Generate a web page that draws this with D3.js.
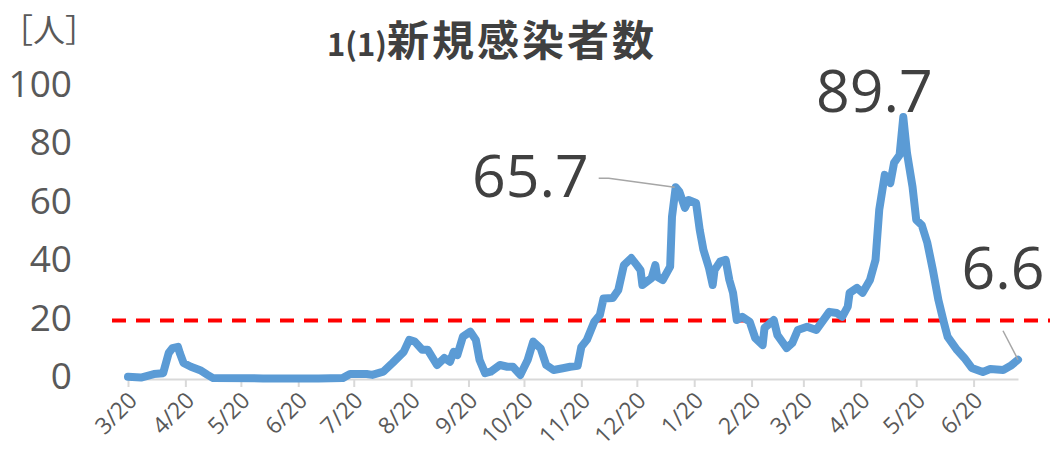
<!DOCTYPE html>
<html>
<head>
<meta charset="utf-8">
<script src="https://cdn.jsdelivr.net/npm/d3@7"></script>
<style>
  html, body { margin: 0; padding: 0; background: #fff; }
  svg { display: block; }
</style>
</head>
<body>
<div id="chart"></div>
<script>
// data (7-day average, persons)
const dates = [
  "2020-03-20","2020-03-27","2020-04-03","2020-04-08","2020-04-11","2020-04-13","2020-04-16","2020-04-17",
  "2020-04-19","2020-04-23","2020-04-28","2020-05-02","2020-05-05","2020-06-01","2020-07-01","2020-07-14",
  "2020-07-18","2020-07-27","2020-07-30","2020-08-05","2020-08-10","2020-08-16","2020-08-19","2020-08-22",
  "2020-08-26","2020-08-29","2020-09-03","2020-09-07","2020-09-10","2020-09-12","2020-09-14","2020-09-17",
  "2020-09-21","2020-09-24","2020-09-26","2020-09-29","2020-10-02","2020-10-07","2020-10-11","2020-10-14",
  "2020-10-18","2020-10-22","2020-10-25","2020-10-29","2020-11-01","2020-11-05","2020-11-10","2020-11-14",
  "2020-11-18","2020-11-20","2020-11-23","2020-11-27","2020-11-30","2020-12-02","2020-12-07","2020-12-10",
  "2020-12-13","2020-12-17","2020-12-20","2020-12-22","2020-12-23","2020-12-28","2020-12-30","2020-12-31",
  "2021-01-03","2021-01-07","2021-01-08","2021-01-10","2021-01-12","2021-01-15","2021-01-17","2021-01-21",
  "2021-01-23","2021-01-25","2021-01-28","2021-01-30","2021-01-31","2021-02-03","2021-02-06","2021-02-08",
  "2021-02-10","2021-02-12","2021-02-15","2021-02-19","2021-02-22","2021-02-26","2021-02-27","2021-03-04",
  "2021-03-06","2021-03-11","2021-03-14","2021-03-17","2021-03-22","2021-03-27","2021-04-03","2021-04-07",
  "2021-04-10","2021-04-13","2021-04-14","2021-04-18","2021-04-21","2021-04-25","2021-04-28","2021-04-30",
  "2021-05-03","2021-05-06","2021-05-08","2021-05-11","2021-05-13","2021-05-15","2021-05-18","2021-05-20",
  "2021-05-23","2021-05-26","2021-05-29","2021-06-01","2021-06-04","2021-06-06","2021-06-11","2021-06-15",
  "2021-06-19","2021-06-25","2021-06-29","2021-07-06","2021-07-10","2021-07-14"
];
const newCases = [
  0.8, 0.5, 1.7, 2.0, 8.9, 10.6, 11.0, 8.9,
  5.5, 4.2, 3.0, 1.4, 0.3, 0.2, 0.2, 0.3,
  1.7, 1.7, 1.4, 2.5, 5.5, 9.3, 13.4, 12.8,
  10.0, 10.0, 4.8, 7.2, 5.9, 9.3, 8.2, 14.5,
  16.2, 13.4, 6.5, 2.0, 2.5, 4.8, 4.2, 4.2,
  1.4, 6.5, 12.8, 10.5, 4.8, 3.1, 3.7, 4.2,
  4.5, 11.0, 13.4, 19.6, 21.9, 27.6, 27.7, 30.5,
  39.0, 41.4, 39.0, 37.3, 32.2, 34.6, 39.0, 35.0,
  33.9, 38.5, 55.6, 65.7, 64.1, 58.6, 61.3, 60.3,
  51.0, 44.2, 38.0, 32.2, 37.3, 40.2, 40.8, 33.9,
  29.5, 20.2, 21.3, 19.6, 14.0, 11.6, 17.5, 20.2,
  15.0, 10.6, 12.3, 16.8, 17.9, 16.8, 23.0, 22.6,
  21.3, 24.8, 29.5, 31.2, 29.5, 33.9, 40.8, 57.9,
  69.9, 67.1, 74.0, 76.7, 89.7, 77.4, 65.8, 54.5,
  52.7, 46.6, 37.3, 27.0, 19.2, 14.4, 10.0, 7.2,
  3.8, 2.4, 3.4, 3.1, 4.5, 6.6
];
const threshold = 20;
const yTicks = [0, 20, 40, 60, 80, 100];
const xTickDates = [
  "2020-03-20","2020-04-20","2020-05-20","2020-06-20","2020-07-20","2020-08-20","2020-09-20","2020-10-20",
  "2020-11-20","2020-12-20","2021-01-20","2021-02-20","2021-03-20","2021-04-20","2021-05-20","2021-06-20"
];
const calloutDates = ["2021-01-10", "2021-05-13", "2021-07-14"];
const calloutTexts = ["65.7", "89.7", "6.6"];
const titleSmall = "1(1)";
const titleMain = "新規感染者数";
const unitLabel = "［人］";

const W = 1051, H = 451;
const parse = d3.timeParse("%Y-%m-%d");
const points = dates.map((d, i) => ({ date: parse(d), value: newCases[i] }));

const svg = d3.select("#chart").append("svg")
  .attr("width", W).attr("height", H);

const x = d3.scaleTime()
  .domain([parse("2020-03-20"), parse("2021-07-14")])
  .range([128, 1018]);
const y = d3.scaleLinear().domain([0, 100]).range([379, 87]);

const numFont = "'Open Sans', 'DejaVu Sans', sans-serif";
const cjkFont = "'Noto Sans CJK JP', 'Noto Sans', sans-serif";

// title
const title = svg.append("text")
  .attr("x", 492).attr("y", 56)
  .attr("text-anchor", "middle")
  .attr("fill", "#404040")
  .attr("font-family", cjkFont)
  .attr("font-weight", "bold");
title.append("tspan").attr("font-size", "31px").text(titleSmall);
title.append("tspan").attr("font-size", "42px").attr("letter-spacing", "3px").text(titleMain);

// unit label
svg.append("text")
  .attr("x", 1).attr("y", 42)
  .attr("fill", "#595959")
  .attr("font-family", cjkFont)
  .attr("font-size", "32px")
  .text(unitLabel);

// y axis labels (no line, no gridlines)
svg.append("g").selectAll("text")
  .data(yTicks).join("text")
  .attr("x", 72)
  .attr("y", d => y(d) + 10)
  .attr("text-anchor", "end")
  .attr("fill", "#595959")
  .attr("font-family", numFont)
  .attr("font-size", "37px")
  .text(d => d);

// x axis
const xAxis = d3.axisBottom(x)
  .tickValues(xTickDates.map(parse))
  .tickFormat(d3.timeFormat("%-m/%-d"))
  .tickSize(8)
  .tickSizeOuter(0);

const gx = svg.append("g")
  .attr("transform", `translate(0,${y(0)})`)
  .call(xAxis);
gx.select(".domain").attr("stroke", "#d9d9d9").attr("stroke-width", 2);
gx.selectAll(".tick line").attr("stroke", "#d9d9d9").attr("stroke-width", 2);
gx.selectAll(".tick text")
  .attr("fill", "#595959")
  .attr("font-family", numFont)
  .attr("font-size", "23px")
  .attr("text-anchor", "end")
  .attr("dy", null)
  .attr("y", 0)
  .attr("transform", "translate(10,23) rotate(-45)");

// threshold dashed line
svg.append("line")
  .attr("x1", x.range()[0] - 16).attr("x2", x.range()[1] + 32)
  .attr("y1", y(threshold)).attr("y2", y(threshold))
  .attr("stroke", "#ff0000")
  .attr("stroke-width", 4)
  .attr("stroke-dasharray", "14 10");

// main series
const line = d3.line()
  .x(d => x(d.date))
  .y(d => y(d.value));

svg.append("path")
  .datum(points)
  .attr("fill", "none")
  .attr("stroke", "#5b9bd5")
  .attr("stroke-width", 8)
  .attr("stroke-linejoin", "round")
  .attr("stroke-linecap", "round")
  .attr("d", line);

// callouts
const callouts = calloutDates.map((d, i) => {
  const p = points.find(pt => +pt.date === +parse(d));
  return { px: x(p.date), py: y(p.value), text: calloutTexts[i] };
});

const leader = "#a6a6a6";
// 65.7
{
  const c = callouts[0];
  svg.append("polyline")
    .attr("points", [[c.px - 77, c.py - 9], [c.px - 67, c.py - 9], [c.px - 1, c.py]].join(" "))
    .attr("fill", "none").attr("stroke", leader).attr("stroke-width", 1.5);
  svg.append("text")
    .attr("x", c.px - 87).attr("y", c.py + 10)
    .attr("text-anchor", "end")
    .attr("fill", "#404040")
    .attr("font-family", numFont).attr("font-size", "59px")
    .text(c.text);
}
// 89.7
{
  const c = callouts[1];
  svg.append("text")
    .attr("x", c.px - 29).attr("y", c.py - 5)
    .attr("text-anchor", "middle")
    .attr("fill", "#404040")
    .attr("font-family", numFont).attr("font-size", "59px")
    .text(c.text);
}
// 6.6
{
  const c = callouts[2];
  svg.append("line")
    .attr("x1", c.px - 15).attr("y1", c.py - 29)
    .attr("x2", c.px).attr("y2", c.py)
    .attr("stroke", leader).attr("stroke-width", 1.5);
  svg.append("text")
    .attr("x", c.px - 15).attr("y", c.py - 71)
    .attr("text-anchor", "middle")
    .attr("fill", "#404040")
    .attr("font-family", numFont).attr("font-size", "59px")
    .text(c.text);
}
</script>
</body>
</html>
